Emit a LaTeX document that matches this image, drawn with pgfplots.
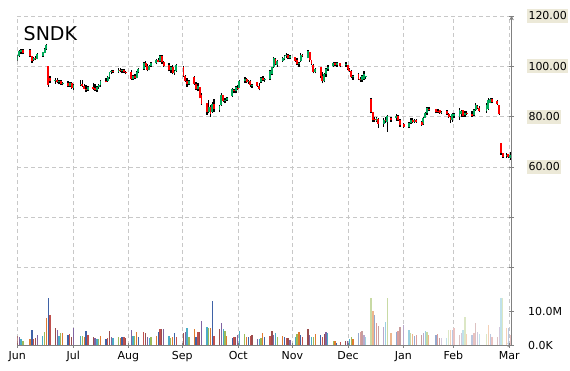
\documentclass[border=0pt]{standalone}
\usepackage{pgfplots}
\pgfplotsset{compat=1.18}
\usepackage{pgfplotstable}
\usepackage{fontspec}
\setmainfont{DejaVu Sans}
\definecolor{axisgray}{RGB}{128,128,128}
\definecolor{gridgray}{RGB}{200,200,200}
\definecolor{labelbg}{RGB}{236,233,216}
\definecolor{upgreen}{RGB}{0,170,90}
\definecolor{downred}{RGB}{255,0,0}
\definecolor{vc0}{HTML}{9B4D4D}
\definecolor{vc1}{HTML}{8064A2}
\definecolor{vc2}{HTML}{4BACC6}
\definecolor{vc3}{HTML}{9BBB59}
\definecolor{vc4}{HTML}{E07B30}
\definecolor{vc5}{HTML}{3F62A6}
\definecolor{vc6}{HTML}{C0504D}
\setlength{\fboxsep}{1.3pt}
\newcommand\pl[1]{\colorbox{labelbg}{\rule[-1.7pt]{0pt}{11.4pt}#1}}

\pgfplotstableread{
px o h l c v
17.5 102.6 104.6 102.2 104.2 2.7
19.3 104.2 106.5 103.8 106.0 2.5
21.1 105.6 107.0 105.0 106.6 1.7
22.9 106.4 106.9 104.8 105.2 1.2
30.1 106.5 106.8 103.6 104.0 1.7
31.9 104.0 104.3 101.4 102.0 4.5
33.7 102.6 103.8 102.2 103.4 1.7
35.5 103.4 104.0 102.5 102.8 2.2
37.3 103.0 105.2 102.8 104.8 3.0
42.8 104.0 105.8 103.8 105.5 2.7
44.6 105.4 107.2 105.2 106.9 4.0
46.4 106.8 108.8 106.5 108.4 8.2
48.2 100.0 100.1 91.7 92.6 14.2
50.0 95.5 96.0 93.4 94.0 9.1
55.4 94.0 95.2 93.0 94.5 5.1
57.2 94.5 95.4 93.2 93.6 4.5
59.0 93.6 94.6 92.8 94.0 2.7
60.8 94.0 94.4 92.6 93.0 3.5
62.6 93.0 93.9 92.4 93.4 3.5
68.0 93.4 94.0 91.7 92.0 3.0
69.8 92.0 93.9 91.6 93.4 3.3
71.6 93.2 93.6 90.9 91.2 2.5
73.4 91.2 92.9 90.7 92.6 5.0
80.6 92.6 94.6 92.0 93.0 2.7
82.4 93.0 94.4 91.8 92.2 2.7
84.2 92.2 92.9 90.8 91.0 2.5
86.1 91.0 92.4 89.9 90.4 4.2
87.9 90.6 92.0 90.2 91.6 3.0
93.3 91.6 93.4 90.6 91.0 2.3
95.1 91.2 92.8 90.3 90.6 2.1
96.9 90.6 92.0 89.9 91.6 1.9
98.7 91.6 92.9 91.0 92.6 1.7
100.5 92.4 94.6 91.8 94.2 2.8
105.9 94.2 95.4 93.6 94.0 1.8
107.7 94.0 96.0 93.8 95.8 2.0
109.5 95.6 97.9 94.9 97.6 4.2
111.3 97.6 98.5 97.0 98.2 2.5
113.1 98.2 98.6 97.2 97.6 2.1
118.5 97.8 99.2 97.4 98.6 2.3
120.3 98.6 99.2 97.6 98.0 2.1
122.1 98.0 99.0 97.2 98.4 2.3
123.9 98.4 98.9 97.4 97.8 2.3
125.7 97.8 98.2 96.8 97.2 2.0
131.2 97.8 98.5 94.6 95.0 4.5
133.0 95.0 96.6 94.6 96.2 2.7
134.8 96.2 97.0 95.0 95.4 2.7
136.6 95.4 98.0 95.2 97.6 4.0
138.4 97.6 99.2 97.2 98.8 2.5
143.8 99.0 101.8 98.6 101.4 4.0
145.6 101.4 102.0 99.6 100.0 3.5
147.4 100.0 100.8 98.0 98.6 2.5
149.2 98.6 100.6 98.4 100.2 2.1
151.0 100.2 101.6 99.8 101.2 2.3
156.4 101.2 103.0 100.8 102.6 2.7
158.2 102.6 103.2 101.6 101.8 3.8
160.0 102.0 104.6 101.8 104.2 4.8
161.8 104.2 104.4 101.0 101.6 4.7
163.6 101.6 102.2 99.9 100.2 4.7
169.0 100.6 101.3 98.0 98.4 2.7
170.8 98.4 100.2 97.4 99.8 2.0
172.6 99.8 100.4 96.8 97.4 2.5
174.4 97.4 98.6 96.6 98.2 3.7
176.3 98.2 100.8 97.8 100.4 2.5
183.5 99.8 100.2 95.9 96.2 3.5
185.3 96.2 96.6 93.9 94.2 4.0
187.1 94.2 95.2 91.9 93.0 5.2
188.9 93.0 94.6 92.4 94.2 2.5
194.3 95.8 96.2 92.6 93.0 4.8
196.1 93.0 93.9 90.6 91.0 2.5
197.9 91.0 93.2 90.0 92.0 4.0
199.7 91.8 91.8 87.3 87.6 4.0
201.5 88.8 89.3 84.6 85.0 7.3
206.9 85.3 85.6 80.7 82.0 5.5
208.7 82.0 86.6 81.3 84.0 5.2
210.5 84.0 84.6 80.0 81.0 5.2
212.3 82.0 86.0 81.6 85.2 13.3
214.1 85.2 87.2 81.8 83.0 2.7
219.5 82.6 84.6 82.0 84.2 4.8
221.4 84.6 89.3 84.4 88.8 6.7
223.2 88.6 88.8 86.0 86.4 4.8
225.0 86.4 87.3 85.3 86.8 4.2
226.8 86.8 88.0 86.2 87.6 2.7
232.2 88.4 91.3 88.0 90.8 2.1
234.0 90.6 91.0 89.3 90.0 2.3
235.8 90.0 92.0 89.3 91.6 2.3
237.6 91.4 92.4 90.6 91.0 3.0
239.4 91.4 94.6 91.2 94.2 4.2
244.8 94.2 95.9 93.4 95.0 3.2
246.6 95.0 95.2 93.2 93.6 2.5
248.4 93.6 94.6 93.0 94.0 2.3
250.2 94.0 94.6 91.9 92.4 2.7
252.0 92.4 93.0 91.4 92.6 3.0
257.4 93.6 93.9 91.9 92.2 1.7
259.2 92.2 93.2 90.4 91.0 1.7
261.0 93.6 95.9 93.4 95.4 2.0
262.8 95.4 96.0 94.0 94.4 3.5
264.6 94.4 95.4 93.8 95.0 2.3
270.1 95.0 98.5 94.6 98.2 2.8
271.9 97.0 99.9 96.5 99.6 4.2
273.7 99.6 103.8 99.4 103.2 3.0
275.5 103.0 103.2 100.4 101.0 3.5
277.3 100.4 102.6 99.9 102.2 2.5
282.7 102.2 103.8 101.9 103.2 2.7
284.5 103.0 104.4 102.4 104.0 2.5
286.3 104.0 105.2 103.2 104.6 2.0
288.1 104.6 104.8 102.8 103.4 2.2
289.9 103.2 104.4 102.8 104.0 1.5
295.3 103.8 103.8 101.9 102.2 2.3
297.1 102.6 103.2 100.5 100.8 3.2
298.9 100.8 101.9 99.9 101.4 3.8
300.7 102.0 105.2 101.8 104.6 3.0
302.5 104.6 104.8 103.6 104.0 2.5
307.9 103.4 106.5 103.2 106.0 4.7
309.7 105.6 105.8 101.9 102.4 3.0
311.5 102.4 102.6 100.5 100.8 2.5
313.4 100.6 100.8 97.2 97.8 2.5
315.2 97.8 99.4 97.2 98.8 3.2
320.6 99.6 99.9 95.2 96.0 3.0
322.4 96.0 97.9 93.2 94.0 2.5
324.2 94.0 97.4 93.6 97.0 3.3
326.0 97.0 99.2 95.9 98.8 4.0
327.8 98.8 100.4 98.2 99.8 3.7
333.2 100.0 101.9 99.9 101.4 1.2
335.0 101.4 101.6 100.0 100.6 1.2
336.8 100.6 101.9 99.9 101.2 0.7
340.4 101.2 101.4 99.6 100.2 1.0
345.8 100.4 101.9 99.9 100.8 1.2
347.6 100.4 100.6 98.5 98.8 1.2
349.4 98.8 99.4 97.8 98.2 1.7
351.2 98.2 98.5 95.2 95.8 2.3
353.0 95.8 96.6 94.6 96.2 1.8
358.5 97.0 97.2 94.6 95.0 3.5
360.3 95.0 95.9 93.9 94.4 4.0
362.1 94.4 96.6 93.8 96.2 4.2
363.9 94.8 98.0 94.6 97.0 3.0
365.7 95.6 96.2 94.8 96.0 2.3
371.1 87.0 87.5 81.3 81.8 14.2
372.9 81.8 81.8 78.0 78.8 10.3
374.7 79.2 80.0 78.0 78.6 9.1
376.5 78.4 80.0 78.0 79.6 6.5
378.3 79.2 79.4 75.4 77.0 5.8
383.7 77.0 79.4 76.0 78.6 5.5
385.5 78.6 80.0 77.4 78.2 7.0
387.3 78.0 80.7 74.1 80.2 14.2
390.9 79.6 80.0 78.0 78.6 3.5
396.3 79.4 80.9 78.3 80.4 4.0
398.1 80.4 80.6 78.4 78.8 4.3
399.9 78.8 78.9 76.0 76.6 5.5
403.6 77.2 77.6 75.4 75.8 6.0
409.0 75.8 77.8 75.4 77.4 4.5
410.8 77.4 79.4 77.0 78.8 3.5
412.6 78.8 79.4 77.4 78.0 3.3
414.4 78.0 79.0 77.4 78.6 2.7
416.2 78.6 79.0 77.6 78.0 3.0
421.6 78.0 78.3 76.4 76.8 3.0
423.4 77.0 80.0 76.8 79.6 3.5
425.2 79.6 82.0 79.4 81.6 4.2
427.0 81.6 84.0 80.7 83.6 4.0
428.8 83.2 84.0 82.4 83.0 3.0
436.0 83.0 83.2 81.3 82.0 3.0
437.8 82.4 82.9 81.6 82.2 3.3
439.6 82.6 82.8 81.2 81.6 2.0
441.4 81.8 82.4 81.0 82.0 2.0
446.8 82.2 82.7 80.7 81.0 2.2
448.6 81.0 81.3 79.4 79.8 4.5
450.5 80.0 80.4 77.4 78.6 4.5
452.3 78.8 81.3 78.0 81.0 4.5
454.1 80.4 81.6 79.4 81.2 5.0
459.5 79.8 83.3 78.7 82.8 3.0
461.3 81.0 82.6 80.0 82.2 3.7
463.1 82.6 82.7 80.0 80.4 4.5
464.9 80.6 82.2 80.0 81.6 8.5
466.7 81.6 82.4 80.6 81.2 3.2
472.1 81.2 82.3 80.0 80.4 3.0
473.9 80.6 83.0 80.2 82.6 3.5
475.7 82.6 85.3 82.4 84.8 6.5
477.5 84.4 84.8 83.0 83.6 4.0
479.3 83.4 84.4 82.0 82.4 3.2
486.5 82.4 85.3 81.6 84.8 3.3
488.3 83.0 87.3 82.7 86.8 6.0
490.2 85.6 87.5 85.3 87.2 3.2
492.0 87.2 87.4 85.3 85.8 2.5
497.4 86.2 86.6 84.6 85.0 2.5
499.2 84.6 84.6 80.7 81.0 5.5
501.0 69.4 69.6 64.8 65.4 14.2
502.8 65.4 65.6 63.5 64.0 14.2
506.6 64.2 65.4 63.6 64.6 5.0
508.4 65.0 65.2 63.4 63.8 5.1
510.2 63.6 66.1 62.8 64.6 3.0
}\stock

\pgfplotsset{
  common/.style={
    at={(17.3pt,25pt)}, anchor=south west,
    scale only axis, width=494.2pt, height=329pt,
    xmin=17.3, xmax=511.5,
    axis line style={-, draw=axisgray, line width=0.8pt},
    every outer x axis line/.append style={-},
    every outer y axis line/.append style={-},
    tick style={draw=axisgray, line width=0.8pt},
    tick align=outside, major tick length=5pt,
    ticklabel style={font=\fontsize{11}{13}\selectfont, text=black},
  },
  candle/.style 2 args={draw=none, no markers,
    error bars/.cd, y dir=plus, y explicit, error mark=none,
    error bar style={draw=#1, line width=#2, solid}},
}

\begin{document}
\begin{tikzpicture}
\useasboundingbox (0,0) rectangle (570pt,370pt);
\begin{axis}[common,
  ymin=-10.73, ymax=120,
  axis x line=bottom, axis y line=right,
  xtick={17.3,73.3,128.3,182.3,238.3,292.3,348,403.3,453.3,509.3},
  xticklabels={Jun,Jul,Aug,Sep,Oct,Nov,Dec,Jan,Feb,Mar},
  ytick={20,40,60,80,100,120},
  yticklabels={,,\pl{60.00},\pl{80.00},\pl{100.00},\pl{120.00}},
  yticklabel style={inner xsep=0pt, xshift=13pt},
  grid=major,
  major grid style={draw=gridgray, dash pattern=on 4pt off 3pt, line width=0.8pt},
]
% wicks
\addplot[candle={black}{1.4pt}]
  table[x=px, y=l, y error expr=\thisrow{h}-\thisrow{l}] {\stock};
% up bodies
\addplot[candle={upgreen}{1.9pt}]
  table[x=px, y expr={\thisrow{c}>=\thisrow{o} ? \thisrow{o} : nan},
        y error expr={\thisrow{c}-\thisrow{o}}] {\stock};
% down bodies
\addplot[candle={downred}{1.9pt}]
  table[x=px, y expr={\thisrow{c}<\thisrow{o} ? \thisrow{c} : nan},
        y error expr={\thisrow{o}-\thisrow{c}}] {\stock};
\end{axis}

\begin{axis}[common,
  ymin=0, ymax=98.8,
  axis x line=none, axis y line=right,
  ytick={0,10}, yticklabels={0.0K,10.0M},
  yticklabel style={inner xsep=0pt, xshift=14pt},
]
\pgfplotsinvokeforeach{0,...,6}{
  \addplot[ycomb, no marks, line width=1.3pt, draw=vc#1]
    table[x=px, y expr={(mod(\coordindex,7)==#1 && \thisrow{px}<355) ? \thisrow{v} : nan}] {\stock};
  \addplot[ycomb, no marks, line width=1.3pt, draw=vc#1!55]
    table[x=px, y expr={(mod(\coordindex,7)==#1 && \thisrow{px}>=355 && \thisrow{px}<440) ? \thisrow{v} : nan}] {\stock};
  \addplot[ycomb, no marks, line width=1.3pt, draw=vc#1!35]
    table[x=px, y expr={(mod(\coordindex,7)==#1 && \thisrow{px}>=440) ? \thisrow{v} : nan}] {\stock};
}
\end{axis}

\node[anchor=base west, inner sep=0pt, font=\fontsize{19}{22}\selectfont] at (23.5pt,329pt) {SNDK};
\end{tikzpicture}
\end{document}
